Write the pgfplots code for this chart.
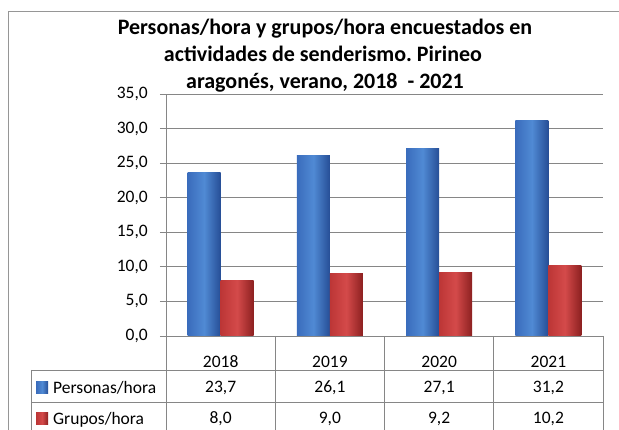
\documentclass[border=0pt]{standalone}
\usepackage{pgfplots}
\pgfplotsset{compat=1.18}
\usepackage{fontspec}
\setmainfont{Carlito}
\frenchspacing
\definecolor{gridc}{RGB}{134,134,134}
\definecolor{framec}{RGB}{150,150,150}
\definecolor{blueL}{RGB}{58,108,188}
\definecolor{blueM}{RGB}{80,138,212}
\definecolor{blueD}{RGB}{38,78,150}
\definecolor{redL}{RGB}{188,54,54}
\definecolor{redM}{RGB}{212,74,74}
\definecolor{redD}{RGB}{140,32,32}
\tikzset{tv/.style={anchor=base, inner sep=0pt, font=\fontsize{17.5}{21}\selectfont}}
\pgfplotsset{
  bB/.style={draw=none, left color=blueL, right color=blueD, middle color=blueM, bar shift=-16.5pt},
  bR/.style={draw=none, left color=redL, right color=redD, middle color=redM, bar shift=16.5pt}}
\begin{document}
\begin{tikzpicture}[x=1pt,y=1pt]
\path[use as bounding box] (0,0) rectangle (619,430);
\draw[framec, line width=0.8pt] (8,-20) -- (8,419) -- (640,419);
\node[anchor=base, font=\fontsize{22}{27}\selectfont\bfseries] at (325,395) {Personas/hora y grupos/hora encuestados en};
\node[anchor=base, font=\fontsize{22}{27}\selectfont\bfseries] at (323,368) {actividades de senderismo. Pirineo};
\node[anchor=base, font=\fontsize{22}{27}\selectfont\bfseries] at (325,341) {aragonés, verano, 2018\ \ - 2021};
\begin{axis}[
  name=ax, at={(166pt,94pt)}, anchor=south west, scale only axis,
  width=437pt, height=242pt, clip=false,
  xmin=-0.5, xmax=3.5, ymin=0, ymax=35,
  ybar=0pt, bar width=33pt,
  axis lines*=left, axis line style={gridc, line width=0.8pt},
  ytick={0,5,...,35}, ymajorgrids, grid style={gridc, line width=0.8pt},
  ytick style={gridc, line width=0.8pt}, tick align=outside, major tick length=6pt,
  xtick={0,1,2,3}, xticklabels={2018,2019,2020,2021}, xtick style={draw=none},
  tick label style={font=\fontsize{17.5}{21}\selectfont},
  yticklabel style={inner sep=0pt, xshift=-12pt, /pgf/number format/.cd, fixed, fixed zerofill, precision=1, use comma, assume math mode=true},
  xticklabel style={anchor=base, yshift=-25.5pt, inner sep=0pt},
  legend style={at={(axis description cs:-0.2975,-0.186)}, anchor=north west, draw=none, fill=none, inner sep=0pt, row sep=15pt, column sep=5pt, cells={anchor=base west}, nodes={inner sep=0pt, text height=12pt, text depth=4pt}, font=\fontsize{17.5}{21}\selectfont},
  legend image code/.code={\fill[#1] (0pt,0pt) rectangle (12pt,12pt);},
]
\addplot[bB] coordinates {(0,23.7)};
\addlegendentry{Personas/hora}
\addplot[bB, forget plot] coordinates {(1,26.1)};
\addplot[bB, forget plot] coordinates {(2,27.1)};
\addplot[bB, forget plot] coordinates {(3,31.2)};
\addplot[bR] coordinates {(0,8.0)};
\addlegendentry{Grupos/hora}
\addplot[bR, forget plot] coordinates {(1,9.0)};
\addplot[bR, forget plot] coordinates {(2,9.2)};
\addplot[bR, forget plot] coordinates {(3,10.2)};
\node[tv, yshift=-57pt] at (axis cs:0,0) {23,7};
\node[tv, yshift=-57pt] at (axis cs:1,0) {26,1};
\node[tv, yshift=-57pt] at (axis cs:2,0) {27,1};
\node[tv, yshift=-57pt] at (axis cs:3,0) {31,2};
\node[tv, yshift=-88pt] at (axis cs:0,0) {8,0};
\node[tv, yshift=-88pt] at (axis cs:1,0) {9,0};
\node[tv, yshift=-88pt] at (axis cs:2,0) {9,2};
\node[tv, yshift=-88pt] at (axis cs:3,0) {10,2};
\end{axis}
\begin{scope}[gridc, line width=0.8pt]
\draw (31,60) -- (603,60);
\draw (31,27.5) -- (603,27.5);
\draw (31,-5) -- (603,-5);
\draw (31,60) -- (31,-10);
\foreach \x in {166,275.25,384.5,493.75,603} {\draw (\x,94) -- (\x,-10);}
\end{scope}
\end{tikzpicture}
\end{document}
